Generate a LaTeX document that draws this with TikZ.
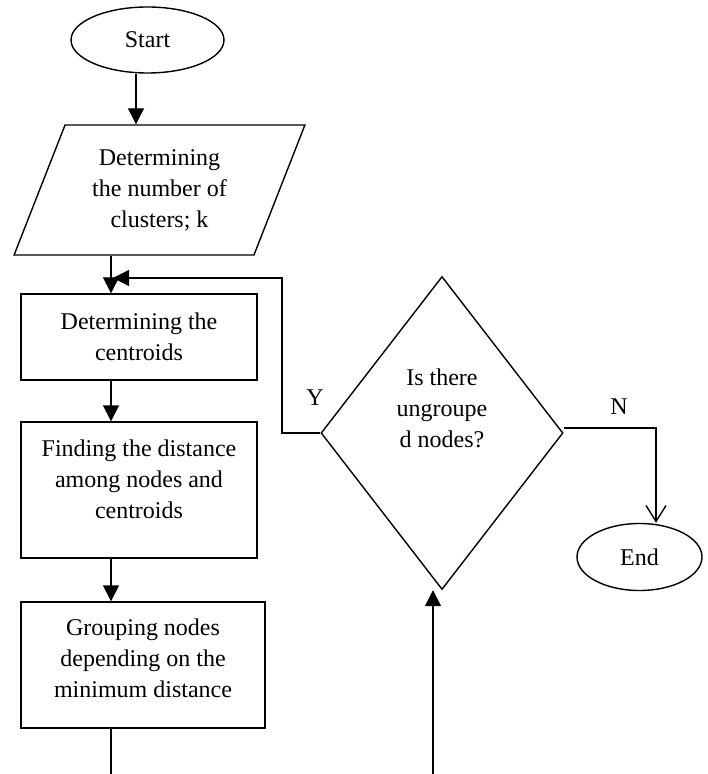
\documentclass[tikz,border=0pt]{standalone}
\usepackage{fontspec}
\setmainfont{Liberation Serif}
\usetikzlibrary{shapes.geometric, arrows.meta, positioning}
\tikzset{
    base/.style={draw, line width=0.7pt, inner sep=0pt, align=center},
    startstop/.style={base, ellipse},
    io/.style={base, trapezium, trapezium left angle=66, trapezium right angle=114, trapezium stretches=true},
    process/.style={base, rectangle},
    decision/.style={base, diamond},
    arr/.style={line width=0.7pt, -{Triangle[length=8pt, width=8pt]}},
    barb/.style={line width=0.7pt, -{Straight Barb[length=8pt, width=10pt]}},
    plain/.style={line width=0.7pt}
}

\begin{document}
\begin{tikzpicture}[x=0.5pt, y=-0.5pt, font=\fontsize{12}{15.5}\selectfont]
    \useasboundingbox (0,0) rectangle (707,774);

    % Main column
    \node[startstop, minimum width=76.5pt, minimum height=33pt] (start) at (147.5,40) {Start};
    \node[io, minimum width=145.5pt, minimum height=65pt] (par) at (159.5,190) {Determining\\the number of\\clusters; k};
    \node[process, minimum width=118pt, minimum height=43pt] (r1) at (139,337) {Determining the\\centroids};
    \node[process, minimum width=118pt, minimum height=68pt,
        label={[align=center, yshift=5.5pt]center:Finding the distance\\among nodes and\\centroids}] (r2) at (139,490) {};
    \node[process, minimum width=122pt, minimum height=63pt,
        label={[align=center, yshift=3.5pt]center:Grouping nodes\\depending on the\\minimum distance}] (r3) at (143,665) {};

    % Decision and end
    \node[decision, minimum width=121pt, minimum height=156.5pt,
        label={[align=center, yshift=12.5pt]center:Is there\\ungroupe\\d nodes?}] (dec) at (442,433) {};
    \node[startstop, minimum width=62.5pt, minimum height=33.5pt] (endn) at (639.5,557) {End};
    \node (ylab) at (315,398) {Y};
    \node (nlab) at (619,407) {N};

    % Helper coordinates
    \coordinate (topx) at (136,0);
    \coordinate (colA) at (111,0);
    \coordinate (bot) at (0,774);
    \coordinate (inB) at (433,774);
    \coordinate (back) at (282,278);
    \coordinate (nx) at (656,428);

    % Connectors
    \draw[arr] (start.south -| topx) -- (topx |- par.north);
    \draw[arr] (par.south -| colA) -- (colA |- r1.north);
    \draw[arr] (r1.south -| colA) -- (colA |- r2.north);
    \draw[arr] (r2.south -| colA) -- (colA |- r3.north);
    \draw[plain] (r3.south -| colA) -- (colA |- bot);
    \draw[arr] (inB) -- (inB |- dec.south);
    \draw[arr] (dec.west) -| (back) -- ([xshift=1pt]back -| colA);
    \draw[barb] (dec.east |- nx) -- (nx) -- (nx |- endn.north);
\end{tikzpicture}
\end{document}
